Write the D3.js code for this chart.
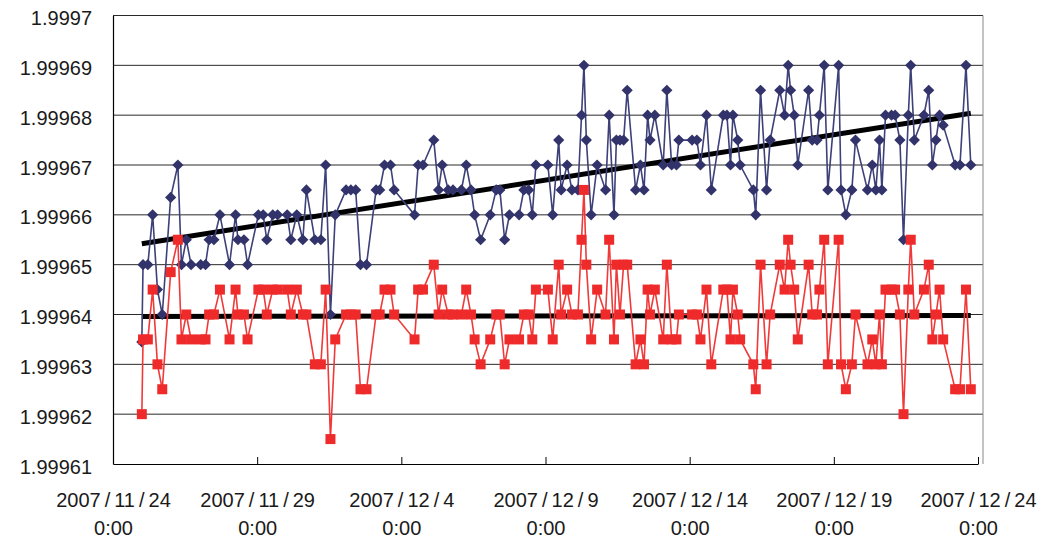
<!DOCTYPE html>
<html>
<head>
<meta charset="utf-8">
<script src="https://cdn.jsdelivr.net/npm/d3@7"></script>
<style>
  body { margin: 0; background: #fff; }
  svg { display: block; }
  text { font-family: "Liberation Sans", Arial, sans-serif; fill: #1a1a1a; }
</style>
</head>
<body>
<svg id="chart" width="1048" height="542"></svg>
<script>
// Sample times (local time)
const times = [
  "2007-11-25 00:00","2007-11-25 01:00","2007-11-25 05:00","2007-11-25 09:00","2007-11-25 13:00","2007-11-25 17:00",
  "2007-11-26 00:00","2007-11-26 06:00","2007-11-26 09:00","2007-11-26 13:00","2007-11-26 17:00",
  "2007-11-27 01:00","2007-11-27 05:00","2007-11-27 08:00","2007-11-27 12:00","2007-11-27 17:00",
  "2007-11-28 01:00","2007-11-28 06:00","2007-11-28 08:00","2007-11-28 13:00","2007-11-28 16:00",
  "2007-11-29 01:00","2007-11-29 05:00","2007-11-29 08:00","2007-11-29 13:00","2007-11-29 17:00",
  "2007-11-30 01:00","2007-11-30 04:00","2007-11-30 09:00","2007-11-30 14:00","2007-11-30 17:00",
  "2007-12-01 00:00","2007-12-01 05:00","2007-12-01 09:00","2007-12-01 13:00","2007-12-01 17:00",
  "2007-12-02 02:00","2007-12-02 06:00","2007-12-02 10:00","2007-12-02 14:00","2007-12-02 19:00",
  "2007-12-03 03:00","2007-12-03 06:00","2007-12-03 10:00","2007-12-03 15:00","2007-12-03 18:00",
  "2007-12-04 11:00","2007-12-04 14:00","2007-12-04 18:00",
  "2007-12-05 03:00","2007-12-05 07:00","2007-12-05 10:00","2007-12-05 15:00","2007-12-05 19:00",
  "2007-12-06 02:00","2007-12-06 06:00","2007-12-06 10:00","2007-12-06 13:00","2007-12-06 18:00",
  "2007-12-07 02:00","2007-12-07 07:00","2007-12-07 10:00","2007-12-07 14:00","2007-12-07 18:00",
  "2007-12-08 02:00","2007-12-08 06:00","2007-12-08 10:00","2007-12-08 13:00","2007-12-08 16:00",
  "2007-12-09 02:00","2007-12-09 06:00","2007-12-09 11:00","2007-12-09 13:00","2007-12-09 18:00","2007-12-09 22:00",
  "2007-12-10 03:00","2007-12-10 06:00","2007-12-10 08:00","2007-12-10 10:00","2007-12-10 14:00","2007-12-10 19:00",
  "2007-12-11 02:00","2007-12-11 05:00","2007-12-11 09:00","2007-12-11 11:00","2007-12-11 14:00","2007-12-11 17:00","2007-12-11 20:00",
  "2007-12-12 03:00","2007-12-12 07:00","2007-12-12 10:00","2007-12-12 13:00","2007-12-12 15:00","2007-12-12 19:00",
  "2007-12-13 02:00","2007-12-13 05:00","2007-12-13 09:00","2007-12-13 13:00","2007-12-13 15:00",
  "2007-12-14 02:00","2007-12-14 06:00","2007-12-14 09:00","2007-12-14 14:00","2007-12-14 18:00",
  "2007-12-15 04:00","2007-12-15 07:00","2007-12-15 10:00","2007-12-15 12:00","2007-12-15 16:00","2007-12-15 18:00",
  "2007-12-16 05:00","2007-12-16 07:00","2007-12-16 11:00","2007-12-16 16:00","2007-12-16 19:00",
  "2007-12-17 03:00","2007-12-17 07:00","2007-12-17 10:00","2007-12-17 12:00","2007-12-17 15:00","2007-12-17 18:00",
  "2007-12-18 03:00","2007-12-18 06:00","2007-12-18 10:00","2007-12-18 12:00","2007-12-18 16:00","2007-12-18 19:00",
  "2007-12-19 04:00","2007-12-19 06:00","2007-12-19 10:00","2007-12-19 15:00","2007-12-19 18:00",
  "2007-12-20 04:00","2007-12-20 08:00","2007-12-20 11:00","2007-12-20 14:00","2007-12-20 16:00","2007-12-20 19:00",
  "2007-12-21 00:00","2007-12-21 03:00","2007-12-21 07:00","2007-12-21 10:00","2007-12-21 14:00","2007-12-21 16:00","2007-12-21 19:00",
  "2007-12-22 03:00","2007-12-22 07:00","2007-12-22 10:00","2007-12-22 13:00","2007-12-22 16:00","2007-12-22 19:00",
  "2007-12-23 05:00","2007-12-23 09:00","2007-12-23 14:00","2007-12-23 18:00"
];

// Upper series (navy diamonds)
const seriesA = [
  1.9996345,1.99965,1.99965,1.99966,1.999645,1.99964,
  1.9996635,1.99967,1.99965,1.999655,1.99965,
  1.99965,1.99965,1.999655,1.999655,1.99966,
  1.99965,1.99966,1.999655,1.999655,1.99965,
  1.99966,1.99966,1.999655,1.99966,1.99966,
  1.99966,1.999655,1.99966,1.999655,1.999665,
  1.999655,1.999655,1.99967,1.99964,1.99966,
  1.999665,1.999665,1.999665,1.99965,1.99965,
  1.999665,1.999665,1.99967,1.99967,1.999665,
  1.99966,1.99967,1.99967,
  1.999675,1.999665,1.99967,1.999665,1.999665,
  1.999665,1.99967,1.999665,1.99966,1.999655,
  1.99966,1.999665,1.999665,1.999655,1.99966,
  1.99966,1.999665,1.999665,1.99966,1.99967,
  1.99967,1.99966,1.999675,1.999665,1.99967,1.999665,
  1.999665,1.99968,1.99969,1.999675,1.99966,1.99967,
  1.999665,1.99968,1.99966,1.999675,1.999675,1.999675,1.999685,
  1.999665,1.99967,1.999665,1.99968,1.999675,1.99968,
  1.99967,1.999685,1.99967,1.99967,1.999675,
  1.999675,1.999675,1.99967,1.99968,1.999665,
  1.99968,1.99968,1.99967,1.99968,1.999675,1.99967,
  1.999665,1.99966,1.999685,1.999665,1.999675,
  1.999685,1.99968,1.99969,1.999685,1.99968,1.99967,
  1.999685,1.999675,1.999675,1.99968,1.99969,1.999665,
  1.99969,1.999665,1.99966,1.999665,1.999675,
  1.999665,1.99967,1.999665,1.999675,1.999665,1.99968,
  1.99968,1.99968,1.999675,1.999655,1.99968,1.99969,1.999675,
  1.99968,1.999685,1.99967,1.999675,1.99968,1.999678,
  1.99967,1.99967,1.99969,1.99967
];

// Lower series (red squares)
const seriesB = [
  1.99962,1.999635,1.999635,1.999645,1.99963,1.999625,
  1.9996485,1.999655,1.999635,1.99964,1.999635,
  1.999635,1.999635,1.99964,1.99964,1.999645,
  1.999635,1.999645,1.99964,1.99964,1.999635,
  1.999645,1.999645,1.99964,1.999645,1.999645,
  1.999645,1.99964,1.999645,1.99964,1.99964,
  1.99963,1.99963,1.999645,1.999615,1.999635,
  1.99964,1.99964,1.99964,1.999625,1.999625,
  1.99964,1.99964,1.999645,1.999645,1.99964,
  1.999635,1.999645,1.999645,
  1.99965,1.99964,1.999645,1.99964,1.99964,
  1.99964,1.999645,1.99964,1.999635,1.99963,
  1.999635,1.99964,1.99964,1.99963,1.999635,
  1.999635,1.99964,1.99964,1.999635,1.999645,
  1.999645,1.999635,1.99965,1.99964,1.999645,1.99964,
  1.99964,1.999655,1.999665,1.99965,1.999635,1.999645,
  1.99964,1.999655,1.999635,1.99965,1.99964,1.99965,1.99965,
  1.99963,1.999635,1.99963,1.999645,1.99964,1.999645,
  1.999635,1.99965,1.999635,1.999635,1.99964,
  1.99964,1.99964,1.999635,1.999645,1.99963,
  1.999645,1.999645,1.999635,1.999645,1.99964,1.999635,
  1.99963,1.999625,1.99965,1.99963,1.99964,
  1.99965,1.999645,1.999655,1.99965,1.999645,1.999635,
  1.99965,1.99964,1.99964,1.999645,1.999655,1.99963,
  1.999655,1.99963,1.999625,1.99963,1.99964,
  1.99963,1.999635,1.99963,1.99964,1.99963,1.999645,
  1.999645,1.999645,1.99964,1.99962,1.999645,1.999655,1.99964,
  1.999645,1.99965,1.999635,1.99964,1.999645,1.999635,
  1.999625,1.999625,1.999645,1.999625
];

// Linear trend values at the first and last sample
const trendA = [1.9996542, 1.9996804];
const trendB = [1.9996396, 1.9996398];

const yTickLabels = ["1.99961","1.99962","1.99963","1.99964","1.99965","1.99966","1.99967","1.99968","1.99969","1.9997"];
const xTickDates = ["2007-11-24","2007-11-29","2007-12-04","2007-12-09","2007-12-14","2007-12-19","2007-12-24"];
const xTickLabels = [["2007","11","24"],["2007","11","29"],["2007","12","4"],["2007","12","9"],["2007","12","14"],["2007","12","19"],["2007","12","24"]];
const xTickTime = "0:00";

(function draw() {
  const parseTime = d3.timeParse("%Y-%m-%d %H:%M");
  const parseDay = d3.timeParse("%Y-%m-%d");

  const svg = d3.select("#chart");
  const pl = 113, pr = 978, pt = 15.5, pb = 464;

  const x = d3.scaleTime()
    .domain([parseDay(xTickDates[0]), parseDay(xTickDates[xTickDates.length - 1])])
    .range([pl, pr]);
  const y = d3.scaleLinear()
    .domain([+yTickLabels[0], +yTickLabels[yTickLabels.length - 1]])
    .range([pb, pt]);

  const dates = times.map(parseTime);
  const dataA = dates.map((d, i) => ({ t: d, v: seriesA[i] }));
  const dataB = dates.map((d, i) => ({ t: d, v: seriesB[i] }));

  // Horizontal gridlines
  svg.append("g").selectAll("line")
    .data(yTickLabels.slice(1))
    .join("line")
    .attr("x1", pl).attr("x2", pr + 5)
    .attr("y1", d => y(+d)).attr("y2", d => y(+d))
    .attr("stroke", "#2a2a2a").attr("stroke-width", 1);

  // Right edge of plot area
  svg.append("line")
    .attr("x1", pr + 5).attr("x2", pr + 5)
    .attr("y1", pt).attr("y2", pb)
    .attr("stroke", "#888").attr("stroke-width", 1);

  // Y axis
  const yAxis = d3.axisLeft(y)
    .tickValues(yTickLabels.map(Number))
    .tickFormat((d, i) => yTickLabels[i])
    .tickSizeInner(0).tickSizeOuter(0).tickPadding(21);
  const gy = svg.append("g").attr("transform", `translate(${pl},0)`).call(yAxis);
  gy.select(".domain").attr("stroke", "#000").attr("stroke-width", 1.2);
  gy.selectAll("text")
    .style("font-size", "20px").attr("fill", "#1a1a1a").attr("dy", "0.45em");

  // X axis with inside ticks
  const xAxis = d3.axisBottom(x)
    .tickValues(xTickDates.map(parseDay))
    .tickSizeInner(-7).tickSizeOuter(0).tickFormat("");
  const gx = svg.append("g").attr("transform", `translate(0,${pb})`).call(xAxis);
  gx.select(".domain").attr("stroke", "#000").attr("stroke-width", 1.2);
  gx.selectAll(".tick line").attr("stroke", "#000");

  // Two-line date labels under each tick
  const lbl = gx.selectAll(".tick").append("g");
  const line1 = lbl.append("text")
    .attr("text-anchor", "middle").attr("y", 43)
    .style("font-size", "20px");
  line1.each(function(d, i) {
    const parts = xTickLabels[i];
    const t = d3.select(this);
    t.append("tspan").text(parts[0]);
    t.append("tspan").attr("dx", 4).text("/");
    t.append("tspan").attr("dx", 4).text(parts[1]);
    t.append("tspan").attr("dx", 4).text("/");
    t.append("tspan").attr("dx", 4).text(parts[2]);
  });
  lbl.append("text")
    .attr("text-anchor", "middle").attr("y", 71)
    .style("font-size", "20px")
    .text(xTickTime);

  // Trend lines
  const t0 = dates[0], t1 = dates[dates.length - 1];
  [trendA, trendB].forEach(tr => {
    svg.append("line")
      .attr("x1", x(t0)).attr("y1", y(tr[0]))
      .attr("x2", x(t1)).attr("y2", y(tr[1]))
      .attr("stroke", "#000").attr("stroke-width", 5);
  });

  const line = d3.line().x(d => x(d.t)).y(d => y(d.v));

  // Navy series
  const navy = "#31336a";
  svg.append("path").datum(dataA)
    .attr("d", line).attr("fill", "none")
    .attr("stroke", "#3d4079").attr("stroke-width", 1.6);
  svg.append("g").selectAll("path")
    .data(dataA)
    .join("path")
    .attr("transform", d => `translate(${x(d.t)},${y(d.v)})`)
    .attr("d", d3.symbol(d3.symbolDiamond2, 80))
    .attr("fill", navy);

  // Red series
  const red = "#ee2a2a";
  svg.append("path").datum(dataB)
    .attr("d", line).attr("fill", "none")
    .attr("stroke", "#f03a3a").attr("stroke-width", 1.6);
  svg.append("g").selectAll("rect")
    .data(dataB)
    .join("rect")
    .attr("x", d => x(d.t) - 5).attr("y", d => y(d.v) - 5)
    .attr("width", 10).attr("height", 10)
    .attr("fill", red);
})();
</script>
</body>
</html>
